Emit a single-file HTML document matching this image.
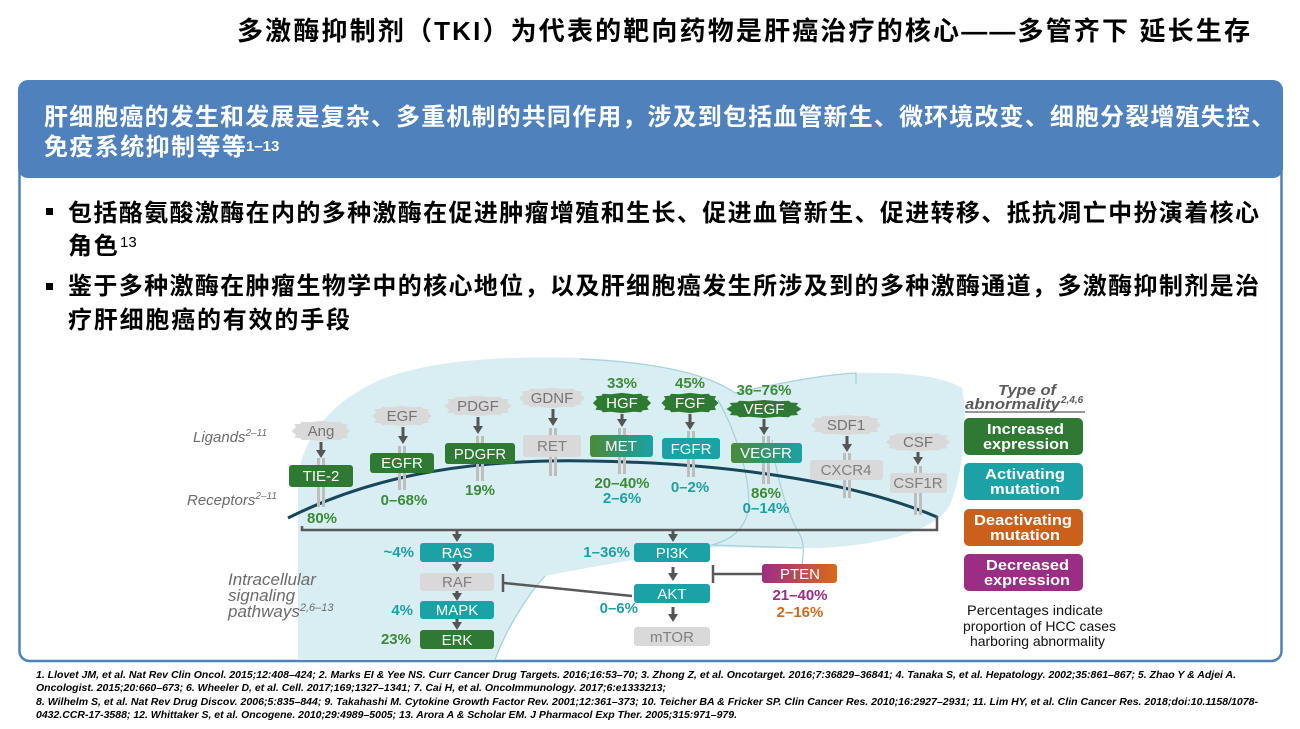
<!DOCTYPE html>
<html><head><meta charset="utf-8"><style>html,body{margin:0;padding:0;background:#fff;}svg{display:block;}</style></head>
<body>
<svg width="1300" height="729" viewBox="0 0 1300 729" xmlns="http://www.w3.org/2000/svg">
<defs>
<linearGradient id="gMet" x1="0" y1="0" x2="1" y2="0"><stop offset="0" stop-color="#4a8a38"/><stop offset="1" stop-color="#19a2a6"/></linearGradient>
<linearGradient id="gPten" x1="0" y1="0" x2="1" y2="0"><stop offset="0" stop-color="#9c2d86"/><stop offset="1" stop-color="#d86a1a"/></linearGradient>
<path id="star" d="M30,0 L25.8,4.3 L27.5,7.3 L21.4,7.9 L19.8,10.1 L11.7,9.5 L0,11 L-11.7,9.5 L-19.8,10.1 L-21.4,7.9 L-27.5,7.3 L-25.8,4.3 L-30,0 L-25.8,-4.3 L-27.5,-7.3 L-21.4,-7.9 L-19.8,-10.1 L-11.7,-9.5 L0,-11 L11.7,-9.5 L19.8,-10.1 L21.4,-7.9 L27.5,-7.3 L25.8,-4.3 Z"/>
</defs>

<!-- Title -->
<text x="237" y="40" font-family="'Liberation Sans','Noto Sans CJK SC',sans-serif" font-size="26" font-weight="bold" fill="#000" textLength="1013">多激酶抑制剂（TKI）为代表的靶向药物是肝癌治疗的核心——多管齐下 延长生存</text>

<!-- Main box -->
<rect x="19.5" y="82" width="1262" height="579" rx="10" fill="#fff" stroke="#4f81bd" stroke-width="2.5"/>
<rect x="18" y="80" width="1265" height="98" rx="10" fill="#4f81bd"/>
<text x="44" y="125" font-family="'Liberation Sans','Noto Sans CJK SC',sans-serif" font-size="24" font-weight="bold" fill="#fff" textLength="1231">肝细胞癌的发生和发展是复杂、多重机制的共同作用，涉及到包括血管新生、微环境改变、细胞分裂增殖失控、</text>
<text x="44" y="155" font-family="'Liberation Sans','Noto Sans CJK SC',sans-serif" font-size="24" font-weight="bold" fill="#fff" letter-spacing="1.4">免疫系统抑制等等</text>
<text x="246" y="151" font-family="'Liberation Sans',sans-serif" font-size="15" font-weight="bold" fill="#fff">1–13</text>

<!-- Bullets -->
<rect x="46" y="208" width="7" height="7" fill="#000"/>
<text x="68" y="221" font-family="'Liberation Sans','Noto Sans CJK SC',sans-serif" font-size="24" font-weight="bold" fill="#000" textLength="1191">包括酪氨酸激酶在内的多种激酶在促进肿瘤增殖和生长、促进血管新生、促进转移、抵抗凋亡中扮演着核心</text>
<text x="68" y="254" font-family="'Liberation Sans','Noto Sans CJK SC',sans-serif" font-size="24" font-weight="bold" fill="#000" letter-spacing="1.8">角色</text>
<text x="120" y="247" font-family="'Liberation Sans',sans-serif" font-size="15" fill="#000">13</text>
<rect x="46" y="283" width="7" height="7" fill="#000"/>
<text x="68" y="294" font-family="'Liberation Sans','Noto Sans CJK SC',sans-serif" font-size="24" font-weight="bold" fill="#000" textLength="1191">鉴于多种激酶在肿瘤生物学中的核心地位，以及肝细胞癌发生所涉及到的多种激酶通道，多激酶抑制剂是治</text>
<text x="68" y="328" font-family="'Liberation Sans','Noto Sans CJK SC',sans-serif" font-size="24" font-weight="bold" fill="#000" letter-spacing="1.8">疗肝细胞癌的有效的手段</text>

<!-- Liver shape -->
<path d="M298,660 L298,482 C300,440 330,402 380,380 C430,360 500,356 580,358 C650,361 705,372 735,393 C780,383 820,375 856,373 C900,372 940,375 962,388 C968,420 964,470 950,505 C935,532 880,545 820,548 L760,548 C730,547 705,546 680,552 C620,562 575,570 545,576 C525,598 505,632 495,660 Z" fill="#d8eef2"/>
<g fill="none" stroke="#a8d3da" stroke-width="1.3">
<path d="M580,359 C650,362 705,372 735,393"/>
<path d="M735,393 C780,383 820,375 856,373 L856,384"/>
<path d="M718,400 C735,430 752,480 748,510 C745,530 730,540 712,545"/>
<path d="M772,440 C775,470 785,510 800,535 C805,545 803,555 802,565"/>
<path d="M710,545 C740,546 770,547 802,548"/>
<path d="M545,576 C525,598 505,632 495,660"/>
</g>

<!-- Membrane -->
<path d="M288,518 C380,472 480,459 590,461 C720,463 850,480 937,517" fill="none" stroke="#17475a" stroke-width="3"/>

<!-- Receptor bars -->
<g fill="#bdbdbd">
<rect x="317" y="458" width="3" height="8"/><rect x="322" y="458" width="3" height="8"/><rect x="317" y="487" width="3" height="20"/><rect x="322" y="487" width="3" height="20"/>
<rect x="398" y="446" width="3" height="8"/><rect x="403" y="446" width="3" height="8"/><rect x="398" y="472" width="3" height="18"/><rect x="403" y="472" width="3" height="18"/>
<rect x="476" y="436" width="3" height="8"/><rect x="481" y="436" width="3" height="8"/><rect x="476" y="463" width="3" height="18"/><rect x="481" y="463" width="3" height="18"/>
<rect x="549" y="428" width="3" height="8"/><rect x="554" y="428" width="3" height="8"/><rect x="549" y="457" width="3" height="19"/><rect x="554" y="457" width="3" height="19"/>
<rect x="618" y="428" width="3" height="8"/><rect x="623" y="428" width="3" height="8"/><rect x="618" y="457" width="3" height="17"/><rect x="623" y="457" width="3" height="17"/>
<rect x="687" y="431" width="3" height="8"/><rect x="692" y="431" width="3" height="8"/><rect x="687" y="459" width="3" height="18"/><rect x="692" y="459" width="3" height="18"/>
<rect x="762" y="436" width="3" height="8"/><rect x="767" y="436" width="3" height="8"/><rect x="762" y="462" width="3" height="22"/><rect x="767" y="462" width="3" height="22"/>
<rect x="843" y="453" width="3" height="8"/><rect x="848" y="453" width="3" height="8"/><rect x="843" y="479" width="3" height="19"/><rect x="848" y="479" width="3" height="19"/>
<rect x="914" y="466" width="3" height="8"/><rect x="919" y="466" width="3" height="8"/><rect x="914" y="492" width="3" height="23"/><rect x="919" y="492" width="3" height="23"/>
</g>

<!-- Ligand badges -->
<g>
<use href="#star" transform="translate(321,431) scale(0.97,0.92)" fill="#d9d9d9"/>
<use href="#star" transform="translate(402,416) scale(1,0.92)" fill="#d9d9d9"/>
<use href="#star" transform="translate(478,406) scale(1.12,0.92)" fill="#d9d9d9"/>
<use href="#star" transform="translate(552,398) scale(1.1,0.92)" fill="#d9d9d9"/>
<use href="#star" transform="translate(622,403) scale(0.97,0.92)" fill="#2f7a32"/>
<use href="#star" transform="translate(690,403) scale(0.95,0.92)" fill="#2f7a32"/>
<use href="#star" transform="translate(764,409) scale(1.25,0.82)" fill="#2f7a32"/>
<use href="#star" transform="translate(846,425) scale(1.17,0.92)" fill="#d9d9d9"/>
<use href="#star" transform="translate(918,442) scale(1.07,0.85)" fill="#d9d9d9"/>
</g>
<g font-family="'Liberation Sans',sans-serif" font-size="15" text-anchor="middle">
<text x="321" y="436" fill="#737373">Ang</text>
<text x="402" y="421" fill="#737373">EGF</text>
<text x="478" y="411" fill="#737373">PDGF</text>
<text x="552" y="403" fill="#737373">GDNF</text>
<text x="622" y="408" fill="#fff">HGF</text>
<text x="690" y="408" fill="#fff">FGF</text>
<text x="764" y="414" fill="#fff">VEGF</text>
<text x="846" y="430" fill="#737373">SDF1</text>
<text x="918" y="447" fill="#737373">CSF</text>
</g>

<!-- Arrows -->
<g stroke="#555" stroke-width="3">
<line x1="321" y1="442" x2="321" y2="451"/>
<line x1="403" y1="427" x2="403" y2="437"/>
<line x1="478" y1="417" x2="478" y2="427"/>
<line x1="553" y1="409" x2="553" y2="419"/>
<line x1="622" y1="414" x2="622" y2="420"/>
<line x1="690" y1="414" x2="690" y2="423"/>
<line x1="764" y1="419" x2="764" y2="428"/>
<line x1="847" y1="436" x2="847" y2="445"/>
<line x1="918" y1="452" x2="918" y2="458"/>
<line x1="457" y1="530" x2="457" y2="535"/>
<line x1="673" y1="530" x2="673" y2="535"/>
<line x1="457" y1="562" x2="457" y2="565"/>
<line x1="457" y1="590" x2="457" y2="594"/>
<line x1="457" y1="619" x2="457" y2="623"/>
<line x1="673" y1="567" x2="673" y2="574"/>
<line x1="673" y1="607" x2="673" y2="615"/>
</g>
<g fill="#555">
<polygon points="316,450 326,450 321,458"/>
<polygon points="398,436 408,436 403,444"/>
<polygon points="473,426 483,426 478,434"/>
<polygon points="548,418 558,418 553,426"/>
<polygon points="617,419 627,419 622,427"/>
<polygon points="685,422 695,422 690,430"/>
<polygon points="759,427 769,427 764,435"/>
<polygon points="842,444 852,444 847,452"/>
<polygon points="913,457 923,457 918,465"/>
<polygon points="452,534 462,534 457,542"/>
<polygon points="668,534 678,534 673,542"/>
<polygon points="452,564 462,564 457,572"/>
<polygon points="452,593 462,593 457,601"/>
<polygon points="452,622 462,622 457,630"/>
<polygon points="668,573 678,573 673,581"/>
<polygon points="668,614 678,614 673,622"/>
</g>

<!-- Bracket -->
<path d="M302,526 L302,530 L937,530 L937,516" fill="none" stroke="#595959" stroke-width="2.5"/>

<!-- Receptor boxes -->
<rect x="289" y="465" width="64" height="22" rx="3" fill="#2f7a32"/>
<rect x="370" y="453" width="64" height="20" rx="3" fill="#2f7a32"/>
<rect x="445" y="443" width="70" height="21" rx="3" fill="#2f7a32"/>
<rect x="523" y="435" width="58" height="22" rx="3" fill="#d9d9d9"/>
<rect x="590" y="435" width="63" height="22" rx="3" fill="url(#gMet)"/>
<rect x="662" y="438" width="58" height="21" rx="3" fill="#1aa2a6"/>
<rect x="731" y="443" width="71" height="20" rx="3" fill="url(#gMet)"/>
<rect x="810" y="460" width="73" height="20" rx="3" fill="#d9d9d9"/>
<rect x="890" y="473" width="57" height="20" rx="3" fill="#d9d9d9"/>
<g font-family="'Liberation Sans',sans-serif" font-size="15" text-anchor="middle">
<text x="321" y="481" fill="#fff">TIE-2</text>
<text x="402" y="468" fill="#fff">EGFR</text>
<text x="480" y="459" fill="#fff">PDGFR</text>
<text x="552" y="451" fill="#7f7f7f">RET</text>
<text x="621" y="451" fill="#fff">MET</text>
<text x="691" y="454" fill="#fff">FGFR</text>
<text x="766" y="458" fill="#fff">VEGFR</text>
<text x="846" y="475" fill="#7f7f7f">CXCR4</text>
<text x="918" y="488" fill="#7f7f7f">CSF1R</text>
</g>

<!-- Percent labels receptors -->
<g font-family="'Liberation Sans',sans-serif" font-size="15" font-weight="bold" text-anchor="middle">
<text x="622" y="388" fill="#3b8a37">33%</text>
<text x="690" y="388" fill="#3b8a37">45%</text>
<text x="764" y="395" fill="#3b8a37">36–76%</text>
<text x="322" y="523" fill="#3b8a37">80%</text>
<text x="404" y="505" fill="#3b8a37">0–68%</text>
<text x="480" y="495" fill="#3b8a37">19%</text>
<text x="622" y="488" fill="#3b8a37">20–40%</text>
<text x="622" y="503" fill="#1e9fa5">2–6%</text>
<text x="690" y="492" fill="#1e9fa5">0–2%</text>
<text x="766" y="498" fill="#3b8a37">86%</text>
<text x="766" y="513" fill="#1e9fa5">0–14%</text>
</g>

<!-- Left italic labels -->
<g font-family="'Liberation Sans',sans-serif" font-style="italic" fill="#6b6b6b">
<text x="193" y="442" font-size="15">Ligands<tspan font-size="10" dy="-6">2–11</tspan></text>
<text x="187" y="505" font-size="15">Receptors<tspan font-size="10" dy="-6">2–11</tspan></text>
<text x="228" y="585" font-size="17">Intracellular</text>
<text x="228" y="601" font-size="17">signaling</text>
<text x="228" y="617" font-size="17">pathways<tspan font-size="11" dy="-6">2,6–13</tspan></text>
</g>

<!-- Inhibition lines -->
<g stroke="#595959" stroke-width="2.5" fill="none">
<line x1="504" y1="583" x2="632" y2="596"/>
<line x1="503" y1="574" x2="503" y2="592"/>
<line x1="713" y1="574" x2="762" y2="574"/>
<line x1="713" y1="565" x2="713" y2="583"/>
</g>

<!-- Pathway boxes -->
<rect x="420" y="543" width="74" height="19" rx="3" fill="#1aa2a6"/>
<rect x="420" y="573" width="74" height="18" rx="3" fill="#d9d9d9"/>
<rect x="420" y="601" width="74" height="18" rx="3" fill="#1aa2a6"/>
<rect x="420" y="630" width="74" height="19" rx="3" fill="#2f7a32"/>
<rect x="634" y="543" width="76" height="19" rx="3" fill="#1aa2a6"/>
<rect x="634" y="584" width="76" height="19" rx="3" fill="#1aa2a6"/>
<rect x="634" y="627" width="76" height="19" rx="3" fill="#d9d9d9"/>
<rect x="762" y="564" width="75" height="19" rx="3" fill="url(#gPten)"/>
<g font-family="'Liberation Sans',sans-serif" font-size="15" text-anchor="middle">
<text x="457" y="558" fill="#fff">RAS</text>
<text x="457" y="587" fill="#7f7f7f">RAF</text>
<text x="457" y="615" fill="#fff">MAPK</text>
<text x="457" y="645" fill="#fff">ERK</text>
<text x="672" y="558" fill="#fff">PI3K</text>
<text x="672" y="599" fill="#fff">AKT</text>
<text x="672" y="642" fill="#7f7f7f">mTOR</text>
<text x="800" y="579" fill="#fff">PTEN</text>
</g>
<g font-family="'Liberation Sans',sans-serif" font-size="15" font-weight="bold">
<text x="414" y="557" text-anchor="end" fill="#1e9fa5">~4%</text>
<text x="413" y="615" text-anchor="end" fill="#1e9fa5">4%</text>
<text x="411" y="644" text-anchor="end" fill="#3b8a37">23%</text>
<text x="630" y="557" text-anchor="end" fill="#1e9fa5">1–36%</text>
<text x="638" y="613" text-anchor="end" fill="#1e9fa5">0–6%</text>
<text x="800" y="600" text-anchor="middle" fill="#9b2d84">21–40%</text>
<text x="800" y="617" text-anchor="middle" fill="#d2691e">2–16%</text>
</g>

<!-- Legend -->
<g font-family="'Liberation Sans',sans-serif" font-style="italic" font-weight="bold" fill="#5a5a5a" font-size="15">
<text x="998" y="395" textLength="58" lengthAdjust="spacingAndGlyphs">Type of</text>
<text x="965" y="409" textLength="95" lengthAdjust="spacingAndGlyphs">abnormality</text>
<text x="1061" y="403" font-size="10">2,4,6</text>
</g>
<line x1="965" y1="412" x2="1085" y2="412" stroke="#5a5a5a" stroke-width="1.2"/>
<rect x="964" y="418" width="119" height="37" rx="5" fill="#2f7a32"/>
<rect x="964" y="463" width="119" height="37" rx="5" fill="#1aa2a6"/>
<rect x="964" y="509" width="119" height="37" rx="5" fill="#c9601b"/>
<rect x="964" y="554" width="119" height="37" rx="5" fill="#9b2d84"/>
<g font-family="'Liberation Sans',sans-serif" font-weight="bold" fill="#fff" font-size="15">
<text x="987" y="434" textLength="77" lengthAdjust="spacingAndGlyphs">Increased</text>
<text x="983" y="449" textLength="86" lengthAdjust="spacingAndGlyphs">expression</text>
<text x="985" y="479" textLength="80" lengthAdjust="spacingAndGlyphs">Activating</text>
<text x="990" y="494" textLength="70" lengthAdjust="spacingAndGlyphs">mutation</text>
<text x="974" y="525" textLength="98" lengthAdjust="spacingAndGlyphs">Deactivating</text>
<text x="990" y="540" textLength="70" lengthAdjust="spacingAndGlyphs">mutation</text>
<text x="986" y="570" textLength="83" lengthAdjust="spacingAndGlyphs">Decreased</text>
<text x="984" y="585" textLength="86" lengthAdjust="spacingAndGlyphs">expression</text>
</g>
<g font-family="'Liberation Sans',sans-serif" fill="#111" font-size="14">
<text x="967" y="615" textLength="136" lengthAdjust="spacingAndGlyphs">Percentages indicate</text>
<text x="963" y="631" textLength="153" lengthAdjust="spacingAndGlyphs">proportion of HCC cases</text>
<text x="970" y="646" textLength="135" lengthAdjust="spacingAndGlyphs">harboring abnormality</text>
</g>

<!-- References -->
<g font-family="'Liberation Sans',sans-serif" font-style="italic" font-weight="bold" font-size="10" fill="#000">
<text x="36" y="678" textLength="1200" lengthAdjust="spacingAndGlyphs">1. Llovet JM, et al. Nat Rev Clin Oncol. 2015;12:408–424; 2. Marks EI &amp; Yee NS. Curr Cancer Drug Targets. 2016;16:53–70; 3. Zhong Z, et al. Oncotarget. 2016;7:36829–36841; 4. Tanaka S, et al. Hepatology. 2002;35:861–867; 5. Zhao Y &amp; Adjei A.</text>
<text x="36" y="691" textLength="630" lengthAdjust="spacingAndGlyphs">Oncologist. 2015;20:660–673; 6. Wheeler D, et al. Cell. 2017;169;1327–1341; 7. Cai H, et al. OncoImmunology. 2017;6:e1333213;</text>
<text x="36" y="705" textLength="1222" lengthAdjust="spacingAndGlyphs">8. Wilhelm S, et al. Nat Rev Drug Discov. 2006;5:835–844; 9. Takahashi M. Cytokine Growth Factor Rev. 2001;12:361–373; 10. Teicher BA &amp; Fricker SP. Clin Cancer Res. 2010;16:2927–2931; 11. Lim HY, et al. Clin Cancer Res. 2018;doi:10.1158/1078-</text>
<text x="36" y="718" textLength="701" lengthAdjust="spacingAndGlyphs">0432.CCR-17-3588; 12. Whittaker S, et al. Oncogene. 2010;29:4989–5005; 13. Arora A &amp; Scholar EM. J Pharmacol Exp Ther. 2005;315:971–979.</text>
</g>
</svg>
</body></html>
